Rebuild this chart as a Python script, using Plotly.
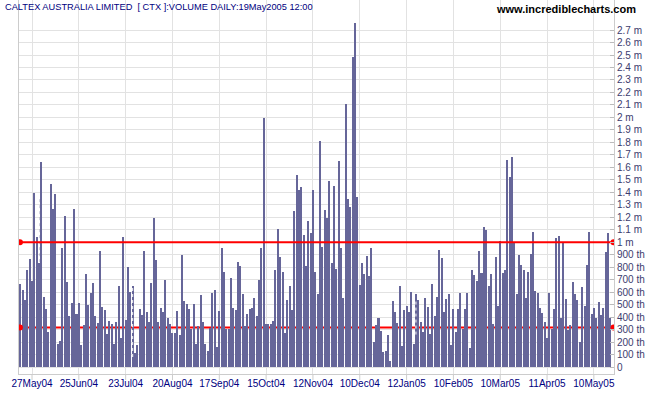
import plotly.graph_objects as go

# ---------------- data (volume in thousands of shares, one value per trading day) -------------
vol_part_a = [665, 617, 537, 777, 865, 689, 1394, 1042, 833, 1643, 561, 465, 280, 1466, 1266, 1386, 184, 208, 954, 1210,
              681, 409, 513, 1266, 425, 513, 176, 337, 745, 497, 593, 673, 409, 353, 929, 481, 457, 264]
vol_part_b = [369, 345, 184, 361, 649, 232, 1042, 377, 801, 601, 649, 112, 176, 465, 417, 929, 441, 361, 673, 1194,
              857, 361, 473, 441, 697, 393, 345, 272, 272, 449, 256, 897, 529, 505, 465, 304, 505, 184, 330, 577,
              361, 184, 128, 312, 593]
vol_part_c = [617, 160, 449, 954, 761, 304, 304, 713, 473, 457, 841, 809, 585, 329, 425, 465, 473, 553, 409, 697,
              954, 1995, 345, 345, 345, 369, 777, 1106, 881, 761, 272, 537, 649, 457, 1250, 1538, 1418, 1442, 1058, 809,
              1170, 1074]
vol_part_d = [1418, 761, 585, 1811, 962, 1258, 1194, 1490, 833, 1450, 785, 1650, 954, 553, 2107, 1346, 1282, 2484, 2756, 1362,
              657, 833, 745, 889, 729, 954, 200, 337, 393, 288, 120, 128, 256, 48, 529, 441, 353, 649, 168, 457,
              489, 441, 601, 184, 585]
vol_part_e = [537, 361, 280, 553, 481, 264, 665, 409, 561, 938, 873, 441, 545, 585, 176, 465, 280, 465, 593, 304,
              465, 593, 152, 777, 737, 689, 929, 753, 1122, 1098, 649, 745, 345, 881, 489, 1010, 753, 777, 1659, 1522,
              1683, 994]
vol_part_f = [585, 897, 817, 777, 553, 761, 905, 1082, 609, 593, 473, 433, 361, 232, 593, 304, 465, 1034, 1050, 393,
              994, 545, 296, 337, 681, 585, 537, 200, 641, 489, 817, 1082, 425, 473, 393, 521, 417, 473, 921, 1074,
              393]

volume_th = vol_part_a + vol_part_b + vol_part_c + vol_part_d + vol_part_e + vol_part_f
volume = [v * 1000 for v in volume_th]
day_index = list(range(len(volume)))

tick_labels = ["27May04", "25Jun04", "23Jul04", "20Aug04", "17Sep04", "15Oct04", "12Nov04",
               "10Dec04", "12Jan05", "10Feb05", "10Mar05", "11Apr05", "10May05"]
tick_index = [5, 25, 45, 65, 85, 105, 125, 145, 165, 185, 205, 225, 245]

upper_level = 1000000
lower_level = 317000

# days whose bars carry a dotted marker, with (bottom, top) of the dotted segment in shares
dotted_days = [8.5, 48, 169]
dotted_ranges = [(840000, 1350000), (80000, 650000), (260000, 540000)]
dotted_colors = ["#666699", "white", "white"]

title_text = "CALTEX AUSTRALIA LIMITED \u00a0[ CTX ]:VOLUME DAILY:19May2005 12:00"
site_text = "www.incrediblecharts.com"

# ---------------- figure ----------------
BAR = "#666699"
GRID = "#e2e2e2"
NAVY = "#000080"
FONT = "Arial, Liberation Sans, sans-serif"

y_ticks = list(range(0, 2800000, 100000))
y_text = []
for v in y_ticks:
    if v == 0:
        y_text.append("0")
    elif v < 1000000:
        y_text.append(f"{v // 1000} th")
    else:
        y_text.append(f"{v / 1e6:g} m")

W, H = 651, 395
ML, MR, MT, MB = 19, 37, 0, 21
plot_w = W - ML - MR
plot_h = H - MT - MB
px_per_share = 124.8 / 1e6
y_top = (plot_h - 7) / px_per_share
y_bot = -7 / px_per_share

x_left, x_right = -0.56, 253.6
line_x0, line_x1 = -0.15, 253.4


def px_to_paper_x(px):
    return (px - ML) / plot_w


def py_to_paper_y(py):
    return (plot_h + MT - py) / plot_h


fig = go.Figure()
fig.add_trace(go.Bar(x=day_index, y=volume, marker=dict(color=BAR, line=dict(width=0)),
                     width=0.86, hoverinfo="skip"))

for d, (lo, hi), c in zip(dotted_days, dotted_ranges, dotted_colors):
    fig.add_trace(go.Scatter(x=[d, d], y=[lo, hi], mode="lines",
                             line=dict(color=c, width=1, dash="dot"), hoverinfo="skip"))

# lower reference line (behind bars)
fig.add_shape(type="line", xref="x", yref="y", x0=line_x0, x1=x_right, y0=lower_level, y1=lower_level,
              line=dict(color="#ff0000", width=2), layer="between")
fig.add_trace(go.Scatter(x=[line_x0, line_x1], y=[lower_level, lower_level], mode="markers",
                         marker=dict(color="#ff0000", size=6), hoverinfo="skip"))
# upper reference line (over bars)
fig.add_trace(go.Scatter(x=[line_x0, x_right], y=[upper_level, upper_level], mode="lines",
                         line=dict(color="#ff0000", width=2), hoverinfo="skip"))
fig.add_trace(go.Scatter(x=[line_x0, line_x1], y=[upper_level, upper_level], mode="markers",
                         marker=dict(color="#ff0000", size=6), hoverinfo="skip"))

# x tick marks below the axis line
for t in tick_index:
    fig.add_shape(type="line", xref="x", yref="paper", x0=t, x1=t, y0=0, y1=-6 / plot_h,
                  line=dict(color="#cccccc", width=1), layer="above")

fig.update_layout(
    width=W, height=H,
    margin=dict(l=ML, r=MR, t=MT, b=MB, pad=0, autoexpand=False),
    paper_bgcolor="white", plot_bgcolor="white",
    showlegend=False, bargap=0, hovermode=False,
    font=dict(family=FONT, size=10, color=NAVY),
    xaxis=dict(range=[x_left, x_right], tickvals=tick_index, ticktext=tick_labels,
               showgrid=True, gridcolor=GRID, gridwidth=1, zeroline=False,
               ticks="", automargin=False, fixedrange=True,
               showline=True, linecolor="#cccccc", linewidth=1,
               tickfont=dict(size=10, color=NAVY, family=FONT)),
    yaxis=dict(range=[y_bot, y_top], side="right", tickvals=y_ticks, ticktext=y_text,
               showgrid=True, gridcolor=GRID, gridwidth=1, zeroline=False,
               ticks="inside", ticklen=4, tickcolor="#bbbbbb", automargin=False, fixedrange=True,
               showline=True, mirror=True, linecolor="#cccccc", linewidth=1,
               tickfont=dict(size=10, color="#3c3c6e", family=FONT)),
    annotations=[
        dict(text=title_text, xref="paper", yref="paper", x=px_to_paper_x(3), y=py_to_paper_y(7),
             xanchor="left", yanchor="middle", showarrow=False,
             font=dict(size=9.25, color=NAVY, family=FONT)),
        dict(text="<b>" + site_text + "</b>", xref="paper", yref="paper", x=px_to_paper_x(638),
             y=py_to_paper_y(9), xanchor="right", yanchor="middle", showarrow=False,
             font=dict(size=11, color="black", family=FONT)),
    ],
)

fig.write_html("out.html", config={"displayModeBar": False, "staticPlot": True},
               post_script="document.body.style.margin='0px';document.body.style.padding='0px';")
